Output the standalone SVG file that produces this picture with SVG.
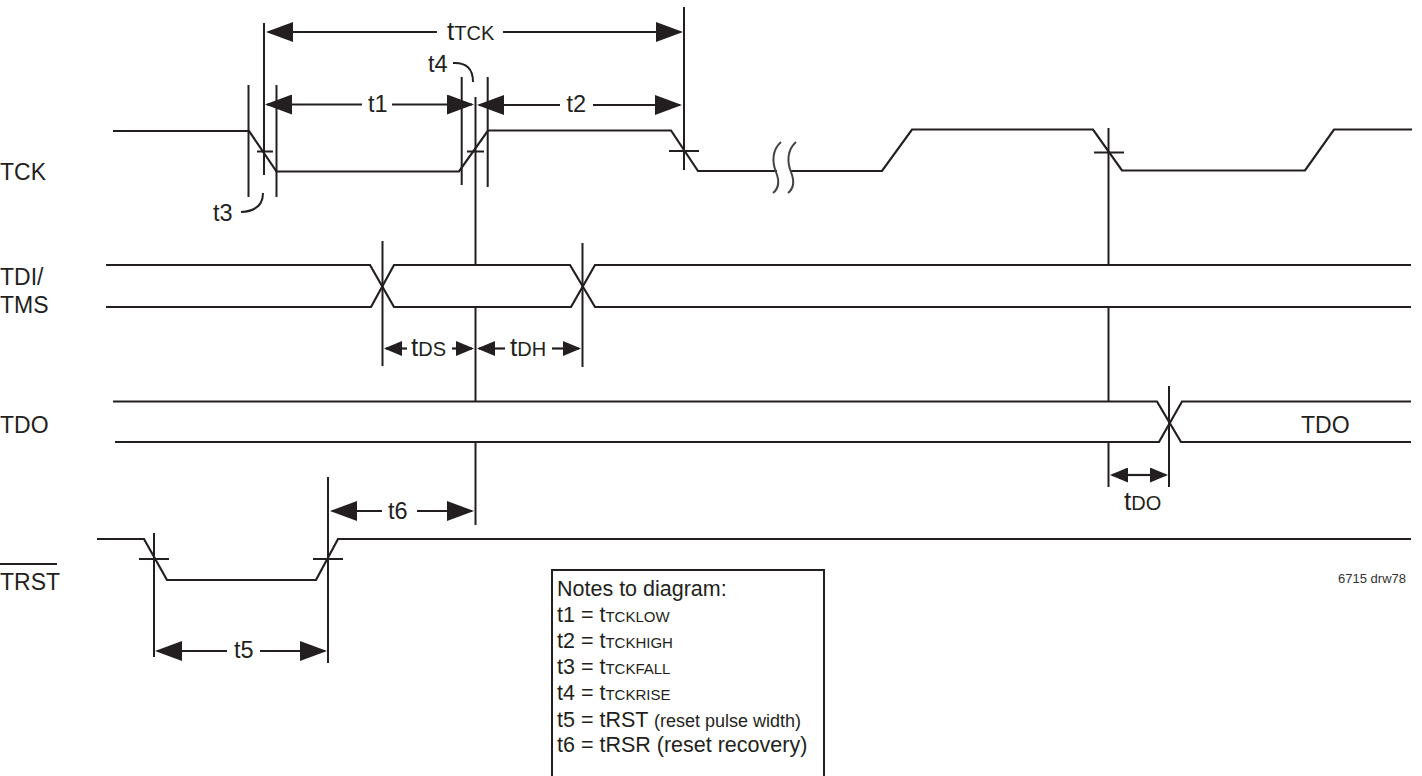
<svg xmlns="http://www.w3.org/2000/svg" width="1422" height="776" viewBox="0 0 1422 776">
<defs>
<marker id="big" markerUnits="userSpaceOnUse" markerWidth="28" markerHeight="20" refX="25" refY="10" orient="auto" viewBox="0 0 28 20"><path d="M0,0 L27,10 L0,20 Z" fill="#231f20"/></marker>
<marker id="small" markerUnits="userSpaceOnUse" markerWidth="19" markerHeight="15" refX="16" refY="7.5" orient="auto" viewBox="0 0 19 15"><path d="M0,0 L18,7.5 L0,15 Z" fill="#231f20"/></marker>
</defs>
<style>
.w{fill:none;stroke:#231f20;stroke-width:2.2;stroke-linejoin:miter}
.v{fill:none;stroke:#231f20;stroke-width:2}
.brk{fill:none;stroke:#444;stroke-width:2}
.d{stroke:#231f20;stroke-width:2.2}
.ab{marker-end:url(#big)}
.as{marker-end:url(#small)}
text{font-family:"Liberation Sans",Arial,sans-serif;fill:#231f20}
.lbl{font-size:23px}
.t{font-size:23.5px}
.tb{font-size:26px}
.sub{font-size:20px}
.n{font-size:21.5px}
.ns{font-size:15px}
.np{font-size:18px}
</style>
<rect width="1422" height="776" fill="#fff"/>

<g id="sig-tck">
<text class="lbl" x="0" y="180">TCK</text>
<path class="w" d="M113,131 H249 L276.5,171.5 H459 L488,130.5 H671 L698,171 H777"/>
<path class="w" d="M790,171 H882 L912,129.5 H1093 L1122,170.5 H1305 L1334,129.5 H1412"/>
<path class="brk" d="M781,142 C772,150 772,162 776,172 C780,182 778,189 773,193"/>
<path class="brk" d="M796,142 C787,150 787,162 791,172 C795,182 793,189 788,193"/>
</g>

<g id="sig-tdi">
<text class="lbl" x="0" y="285">TDI/</text>
<text class="lbl" x="0" y="313">TMS</text>
<path class="w" d="M106,265 H370 L394,307 H571 L595,265 H1411"/>
<path class="w" d="M106,307 H371 L394,265 H570 L595,307 H1411"/>
</g>

<g id="sig-tdo">
<text class="lbl" x="0" y="433">TDO</text>
<path class="w" d="M113,401.5 H1157 L1181,442 H1411"/>
<path class="w" d="M115,442 H1159 L1182,401.5 H1411"/>
<text class="lbl" x="1301" y="433">TDO</text>
</g>

<g id="sig-trst">
<text class="lbl" x="0" y="590">TRST</text>
<line class="v" x1="0" y1="564" x2="57" y2="564"/>
<path class="w" d="M97,539 H144 L167,580 H316 L338,539 H1411"/>
</g>

<g id="connectors">
<path class="v" d="M248.5,85 V197 M264,23 V175 M276.5,85 V197 M461.7,77 V185 M475.5,97 V265 M475.5,307 V401.5 M475.5,442 V525 M487.7,77 V187 M684,7 V170 M1108.5,128 V265 M1108.5,307 V401.5 M1108.5,442 V487 M382.5,241 V366 M582.5,243 V367 M1169,386 V487 M154,533 V657 M328,477 V663"/>
<path class="v" d="M257,151.5 H273 M467,151.5 H484 M669,151 H699 M1094,152.5 H1124 M139,559 H169 M313,559 H343"/>
<line class="d ab" x1="437" y1="32" x2="268" y2="32"/>
<line class="d ab" x1="503" y1="32" x2="681" y2="32"/>
<line class="d ab" x1="362" y1="104.5" x2="267" y2="104.5"/>
<line class="d ab" x1="392" y1="104.5" x2="472" y2="104.5"/>
<line class="d ab" x1="560" y1="105" x2="479" y2="105"/>
<line class="d ab" x1="593" y1="105" x2="680" y2="105"/>
<line class="d as" x1="407" y1="348.5" x2="386" y2="348.5"/>
<line class="d as" x1="452" y1="348.5" x2="472" y2="348.5"/>
<line class="d as" x1="505" y1="348.5" x2="479" y2="348.5"/>
<line class="d as" x1="552" y1="348.5" x2="579" y2="348.5"/>
<line class="d as" x1="1140" y1="475" x2="1112" y2="475"/>
<line class="d as" x1="1140" y1="475" x2="1166" y2="475"/>
<line class="d ab" x1="227" y1="651" x2="157" y2="651"/>
<line class="d ab" x1="260" y1="651" x2="325" y2="651"/>
<line class="d ab" x1="382" y1="511" x2="332" y2="511"/>
<line class="d ab" x1="417" y1="511" x2="472" y2="511"/>
<path class="v" d="M453,63 Q473,62 473,82"/>
<path class="v" d="M241,212 Q263,211 263,193"/>
</g>

<g id="dim-labels">
<text x="447" y="40"><tspan class="tb">t</tspan><tspan class="sub">TCK</tspan></text>
<text class="t" x="368" y="111.5">t1</text>
<text class="t" x="566.5" y="112">t2</text>
<text class="t" x="213" y="221">t3</text>
<text class="t" x="428" y="71.5">t4</text>
<text class="t" x="234" y="658">t5</text>
<text class="t" x="388" y="518.5">t6</text>
<text x="411" y="355.5"><tspan class="tb">t</tspan><tspan class="sub">DS</tspan></text>
<text x="510" y="355.5"><tspan class="tb">t</tspan><tspan class="sub">DH</tspan></text>
<text x="1124" y="510"><tspan class="tb">t</tspan><tspan class="sub">DO</tspan></text>
</g>

<g id="notes">
<rect x="552" y="570" width="272" height="220" fill="none" stroke="#231f20" stroke-width="2"/>
<text class="n" x="557" y="596">Notes to diagram:</text>
<text class="n" x="557" y="622">t1 = t<tspan class="ns">TCKLOW</tspan></text>
<text class="n" x="557" y="648">t2 = t<tspan class="ns">TCKHIGH</tspan></text>
<text class="n" x="557" y="674">t3 = t<tspan class="ns">TCKFALL</tspan></text>
<text class="n" x="557" y="700">t4 = t<tspan class="ns">TCKRISE</tspan></text>
<text class="n" x="557" y="726.5">t5 = tRST <tspan class="np">(reset pulse width)</tspan></text>
<text class="n" x="557" y="752">t6 = tRSR (reset recovery)</text>
</g>

<text x="1406" y="583" text-anchor="end" font-size="13" style="fill:#333">6715 drw78</text>
</svg>
